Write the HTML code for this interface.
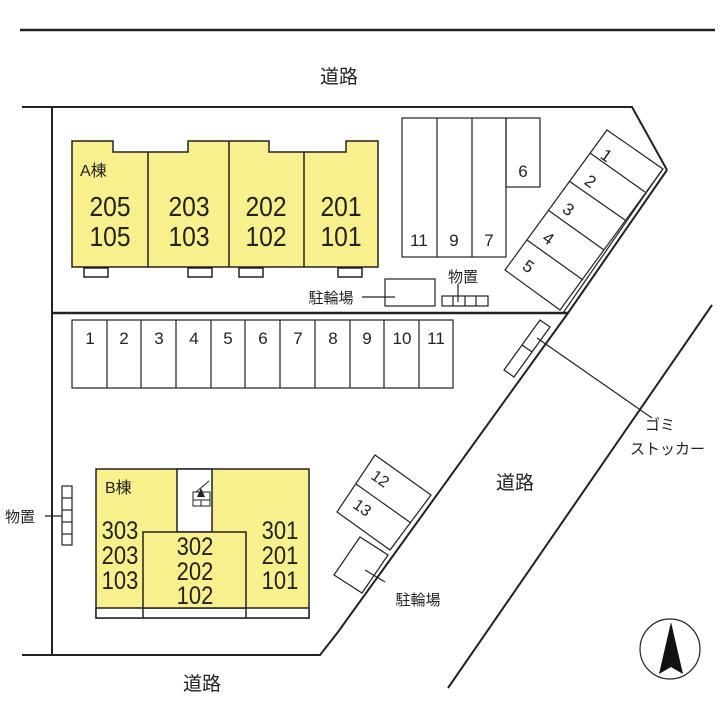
<!DOCTYPE html>
<html><head><meta charset="utf-8"><style>
html,body{margin:0;padding:0;background:#fff}
svg text{font-family:"Liberation Sans","Noto Sans CJK JP",sans-serif;fill:#222}
</style></head><body>
<svg width="720" height="720" viewBox="0 0 720 720" xmlns="http://www.w3.org/2000/svg">
<g stroke="#222" fill="none" stroke-width="1.5">
<line x1="20" y1="30" x2="715" y2="30" stroke-width="2.5"/>
<polyline points="22,107 632,107 667,170" stroke-width="2"/>
<line x1="52" y1="107" x2="52" y2="655" stroke-width="2"/>
<polyline points="22,655 320,655 338,632 568,313 667,170" stroke-width="2"/>
<line x1="563" y1="313" x2="662" y2="170" stroke-width="1.2"/>
<line x1="52" y1="313" x2="568" y2="313" stroke-width="2.5"/>
<line x1="712" y1="305" x2="448" y2="688" stroke-width="2"/>
</g>
<!-- Building A -->
<path d="M72,141 H113 V152 H188 V141 H269 V152 H346 V141 H378 V267 H72 Z" fill="#f7f08c" stroke="#222" stroke-width="1.5"/>
<g stroke="#222" stroke-width="1.5" fill="#fff">
<line x1="148" y1="152" x2="148" y2="267"/><line x1="229" y1="141" x2="229" y2="267"/><line x1="304" y1="152" x2="304" y2="267"/>
<rect x="84" y="268" width="24" height="9"/><rect x="188" y="268" width="24" height="9"/><rect x="239" y="268" width="24" height="9"/><rect x="338" y="268" width="24" height="9"/>
</g>
<text x="80" y="176" font-size="16">A棟</text>
<g font-size="28" text-anchor="middle">
<text x="110" y="216" transform="scale(0.88 1)" transform-origin="110 216">205</text><text x="110" y="246" transform="scale(0.88 1)" transform-origin="110 246">105</text>
<text x="189" y="216" transform="scale(0.88 1)" transform-origin="189 216">203</text><text x="189" y="246" transform="scale(0.88 1)" transform-origin="189 246">103</text>
<text x="266" y="216" transform="scale(0.88 1)" transform-origin="266 216">202</text><text x="266" y="246" transform="scale(0.88 1)" transform-origin="266 246">102</text>
<text x="341" y="216" transform="scale(0.88 1)" transform-origin="341 216">201</text><text x="341" y="246" transform="scale(0.88 1)" transform-origin="341 246">101</text>
</g>
<!-- top right parking -->
<g stroke="#222" stroke-width="1.2" fill="none">
<rect x="402" y="118" width="104" height="139"/><line x1="437" y1="118" x2="437" y2="257"/><line x1="472" y1="118" x2="472" y2="257"/>
<rect x="506" y="118" width="34" height="69"/>
<rect x="385" y="279" width="50" height="27"/>
<line x1="362" y1="297" x2="395" y2="297"/>
<rect x="442" y="296" width="46" height="10"/><line x1="453" y1="296" x2="453" y2="306"/><line x1="465" y1="296" x2="465" y2="306"/><line x1="476" y1="296" x2="476" y2="306"/>
<line x1="458" y1="284" x2="458" y2="302"/>
<polygon points="607,130 663,169 560,310 505,270"/>
<line x1="590" y1="153" x2="645" y2="192"/><line x1="569" y1="181" x2="625" y2="220"/><line x1="548" y1="210" x2="604" y2="250"/><line x1="527" y1="240" x2="583" y2="280"/>
</g>
<g font-size="17" text-anchor="middle">
<text x="419" y="246">11</text><text x="454" y="246">9</text><text x="489" y="246">7</text><text x="523" y="177">6</text>
<text x="606" y="161" transform="rotate(35 606 156)">1</text><text x="590" y="187" transform="rotate(35 590 182)">2</text><text x="568" y="215" transform="rotate(35 568 210)">3</text><text x="548" y="244" transform="rotate(35 548 239)">4</text><text x="528" y="272" transform="rotate(35 528 267)">5</text>
</g>
<g font-size="15" text-anchor="middle">
<text x="331" y="303">駐輪場</text><text x="463" y="282">物置</text>
</g>
<!-- row parking -->
<g stroke="#222" stroke-width="1.2" fill="none">
<rect x="72" y="320" width="381" height="68"/>
<line x1="107" y1="320" x2="107" y2="388"/><line x1="141" y1="320" x2="141" y2="388"/><line x1="176" y1="320" x2="176" y2="388"/><line x1="211" y1="320" x2="211" y2="388"/><line x1="245" y1="320" x2="245" y2="388"/><line x1="280" y1="320" x2="280" y2="388"/><line x1="315" y1="320" x2="315" y2="388"/><line x1="350" y1="320" x2="350" y2="388"/><line x1="384" y1="320" x2="384" y2="388"/><line x1="419" y1="320" x2="419" y2="388"/>
</g>
<g font-size="17" text-anchor="middle">
<text x="90" y="344">1</text><text x="124" y="344">2</text><text x="159" y="344">3</text><text x="194" y="344">4</text><text x="228" y="344">5</text><text x="263" y="344">6</text><text x="298" y="344">7</text><text x="333" y="344">8</text><text x="367" y="344">9</text><text x="402" y="344">10</text><text x="436" y="344">11</text>
</g>
<!-- gomi -->
<g stroke="#222" stroke-width="1.2" fill="none">
<polygon points="540,320 550,327 514,377 504,370"/><line x1="522" y1="345" x2="532" y2="352"/>
<line x1="537" y1="338" x2="652" y2="418"/>
</g>
<text x="645" y="430" font-size="15">ゴミ</text>
<text x="630" y="454" font-size="15">ストッカー</text>
<text x="515" y="489" font-size="19" text-anchor="middle">道路</text>
<!-- 12/13 -->
<g stroke="#222" stroke-width="1.2" fill="none">
<polygon points="375,455 431,495 390,550 337,512"/><line x1="356" y1="484" x2="411" y2="523"/>
<polygon points="360,537 388,555 362,593 334,575"/>
<line x1="365" y1="570" x2="385" y2="582"/>
</g>
<g font-size="16" text-anchor="middle">
<text x="380" y="484" transform="rotate(35 380 479)">12</text><text x="362" y="513" transform="rotate(35 362 508)">13</text>
</g>
<text x="418" y="605" font-size="15" text-anchor="middle">駐輪場</text>
<!-- Building B -->
<rect x="96" y="469" width="213" height="149" fill="#f7f08c" stroke="#222" stroke-width="1.5"/>
<g stroke="#222" stroke-width="1.5" fill="#fff">
<rect x="177" y="469" width="35" height="63"/>
<rect x="96" y="608" width="213" height="10"/>
<line x1="143" y1="608" x2="143" y2="618"/><line x1="246" y1="608" x2="246" y2="618"/>
</g>
<rect x="143" y="532" width="103" height="76" fill="#f7f08c" stroke="#222" stroke-width="1.5"/>
<g stroke="#222" stroke-width="1" fill="none">
<rect x="193" y="492" width="17" height="14"/><line x1="193" y1="500" x2="210" y2="500"/><line x1="201" y1="500" x2="201" y2="506"/><line x1="196" y1="492" x2="209" y2="481"/>
</g>
<polygon points="201,488 197,497 205,497" fill="#222"/>
<text x="105" y="493" font-size="16">B棟</text>
<g font-size="25" text-anchor="middle">
<text x="120" y="539" transform="scale(0.88 1)" transform-origin="120 539">303</text><text x="120" y="564" transform="scale(0.88 1)" transform-origin="120 564">203</text><text x="120" y="589" transform="scale(0.88 1)" transform-origin="120 589">103</text>
<text x="195" y="555" transform="scale(0.88 1)" transform-origin="195 555">302</text><text x="195" y="580" transform="scale(0.88 1)" transform-origin="195 580">202</text><text x="195" y="604" transform="scale(0.88 1)" transform-origin="195 604">102</text>
<text x="280" y="539" transform="scale(0.88 1)" transform-origin="280 539">301</text><text x="280" y="564" transform="scale(0.88 1)" transform-origin="280 564">201</text><text x="280" y="589" transform="scale(0.88 1)" transform-origin="280 589">101</text>
</g>
<g stroke="#222" stroke-width="1.2" fill="none">
<rect x="62" y="486" width="10" height="59"/><line x1="62" y1="498" x2="72" y2="498"/><line x1="62" y1="510" x2="72" y2="510"/><line x1="62" y1="522" x2="72" y2="522"/><line x1="62" y1="534" x2="72" y2="534"/>
<line x1="45" y1="516" x2="62" y2="516"/>
</g>
<text x="5" y="522" font-size="15">物置</text>
<text x="320" y="83" font-size="19">道路</text>
<text x="183" y="690" font-size="19">道路</text>
<!-- compass -->
<circle cx="670" cy="649" r="30" fill="none" stroke="#222" stroke-width="1.2"/>
<polygon points="671,622 659,674 671,667 683,674" fill="#111"/>
</svg>
</body></html>
